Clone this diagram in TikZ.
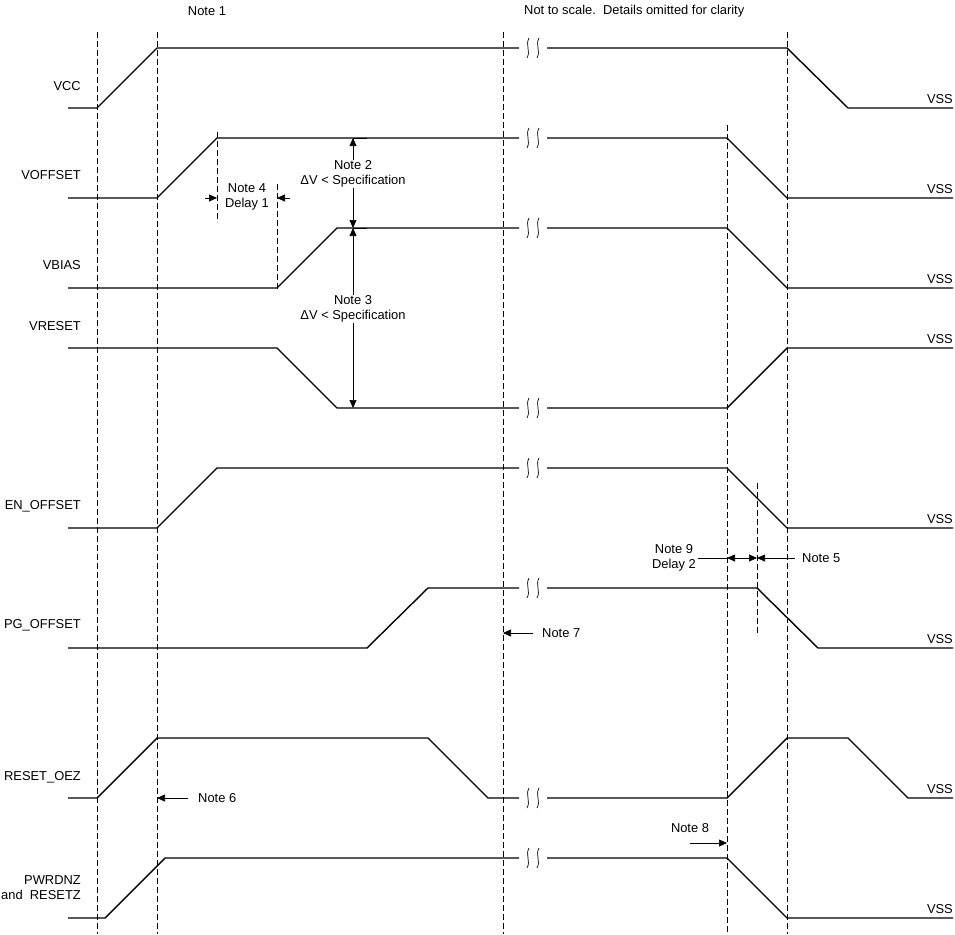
\documentclass[tikz,border=0pt]{standalone}
\usepackage{fontspec}
\setmainfont{Liberation Sans}
\usetikzlibrary{arrows.meta}
\tikzset{
  sig/.style={line width=1.4pt},
  mark line/.style={line width=0.7pt, dash pattern=on 6pt off 3pt},
  lbl/.style={inner sep=0pt, anchor=east, align=right},
  vsslbl/.style={inner sep=0pt, anchor=south east},
  note/.style={inner sep=1pt, align=center, fill=white},
  dimarrow/.style={line width=0.7pt, -{Triangle[length=8pt,width=7pt]}},
  dimboth/.style={line width=0.7pt, {Triangle[length=8pt,width=7pt]}-{Triangle[length=8pt,width=7pt]}},
  squig/.style={line width=0.7pt},
}
\begin{document}
\begin{tikzpicture}[x=1pt,y=-1pt,font=\fontsize{12.9}{15}\selectfont]
      \useasboundingbox (0,0) rectangle (955,934);%

      % header texts
      \node[inner sep=0pt] (N1) at (207,11) {Note 1};%
      \node[inner sep=0pt,anchor=west] (NS) at (524,11) {Not to scale.\ \ Details omitted for clarity};%

      % dashed time markers
      \foreach \x in {97,157,503,787}
        \draw[mark line] (\x,32) -- (\x,934);%
      \draw[mark line] (727,125) -- (727,934);%
      \draw[mark line] (757,483) -- (757,636);%
      \draw[mark line] (217,132) -- (217,222);%
      \draw[mark line] (277,184) -- (277,290);%

      % signal names
      \node[lbl] (LVCC) at (81,86) {VCC};%
      \node[lbl] (LVOFF) at (81,175) {VOFFSET};%
      \node[lbl] (LVBIAS) at (81,265) {VBIAS};%
      \node[lbl] (LVRST) at (81,326) {VRESET};%
      \node[lbl] (LEN) at (81,506) {EN\_OFFSET};%
      \node[lbl] (LPG) at (81,625) {PG\_OFFSET};%
      \node[lbl] (LROEZ) at (81,777) {RESET\_OEZ};%
      \node[lbl] (LPWR) at (81,888) {PWRDNZ\\and\ \ RESETZ};%

      % VSS labels
      \foreach \y in {104,194,284,344,524,644,794,914}
        \node[vsslbl] at (953,\y) {VSS};%

      % waveforms
      \draw[sig] (68,108) -- (97,108) -- (157,48) -- (519,48);%
      \draw[sig] (547,48) -- (787,48) -- (848,108) -- (953,108);%

      \draw[sig] (68,198) -- (157,198) -- (217,138) -- (519,138);%
      \draw[sig] (547,138) -- (727,138) -- (787,198) -- (953,198);%

      \draw[sig] (68,288) -- (277,288) -- (337,228) -- (519,228);%
      \draw[sig] (547,228) -- (727,228) -- (787,288) -- (953,288);%

      \draw[sig] (68,348) -- (277,348) -- (337,408) -- (519,408);%
      \draw[sig] (547,408) -- (727,408) -- (787,348) -- (953,348);%

      \draw[sig] (68,528) -- (157,528) -- (217,468) -- (519,468);%
      \draw[sig] (547,468) -- (727,468) -- (787,528) -- (953,528);%

      \draw[sig] (68,648) -- (367,648) -- (428,588) -- (519,588);%
      \draw[sig] (547,588) -- (757,588) -- (818,648) -- (953,648);%

      \draw[sig] (68,798) -- (97,798) -- (157,738) -- (428,738) -- (488,798) -- (519,798);%
      \draw[sig] (547,798) -- (727,798) -- (787,738) -- (848,738) -- (908,798) -- (953,798);%

      \draw[sig] (68,918) -- (105,918) -- (165,858) -- (519,858);%
      \draw[sig] (547,858) -- (727,858) -- (787,918) -- (953,918);%

      % break marks
      \foreach \y in {48,138,228,408,468,588,798,858}
        \foreach \x in {528,538}
          \draw[squig] (\x+1,\y-10) .. controls (\x-3,\y-3) and (\x+3,\y+3) .. (\x-1,\y+10);%

      % Note 2 / Note 3
      \coordinate (D1) at (353,138);%
      \coordinate (D2) at (353,228);%
      \coordinate (D3) at (353,408);%
      \draw[line width=0.7pt] (D1) -- (367,138);%
      \draw[line width=0.7pt] (D2) -- (367,228);%
      \draw[dimboth] (D1) -- (D2) node[note,pos=0.4] (N2) {Note 2\\ΔV < Specification};%
      \draw[dimboth] (D2) -- (D3) node[note,pos=0.45] (N3) {Note 3\\ΔV < Specification};%

      % Note 4
      \coordinate (A4a) at (205,198);%
      \coordinate (A4b) at (217,198);%
      \coordinate (A4c) at (290,198);%
      \coordinate (A4d) at (277,198);%
      \draw[dimarrow] (A4a) -- (A4b);%
      \draw[dimarrow] (A4c) -- (A4d);%
      \node[note] (N4) at (247,197) {Note 4\\Delay 1};%

      % Note 9 / Note 5
      \coordinate (A9a) at (698,558);%
      \coordinate (A9b) at (727,558);%
      \coordinate (A9c) at (757,558);%
      \coordinate (A5a) at (795,558);%
      \draw[line width=0.7pt] (A9a) -- (A9b);%
      \draw[dimboth] (A9b) -- (A9c);%
      \draw[dimarrow] (A5a) -- (A9c);%
      \node[note,anchor=east] (N9) at (697,558) {Note 9\\Delay 2};%
      \node[inner sep=0pt,anchor=west] (N5) at (802,558) {Note 5};%

      % Note 7, 6, 8
      \coordinate (A7a) at (533,633);%
      \coordinate (A7b) at (503,633);%
      \draw[dimarrow] (A7a) -- (A7b);%
      \node[inner sep=0pt,anchor=west] (N7) at (542,633) {Note 7};%

      \coordinate (A6a) at (188,798);%
      \coordinate (A6b) at (157,798);%
      \draw[dimarrow] (A6a) -- (A6b);%
      \node[inner sep=0pt,anchor=west] (N6) at (198,798) {Note 6};%

      \coordinate (A8a) at (690,843);%
      \coordinate (A8b) at (727,843);%
      \draw[dimarrow] (A8a) -- (A8b);%
      \node[inner sep=0pt] (N8) at (690,828) {Note 8};%
\end{tikzpicture}
\end{document}
